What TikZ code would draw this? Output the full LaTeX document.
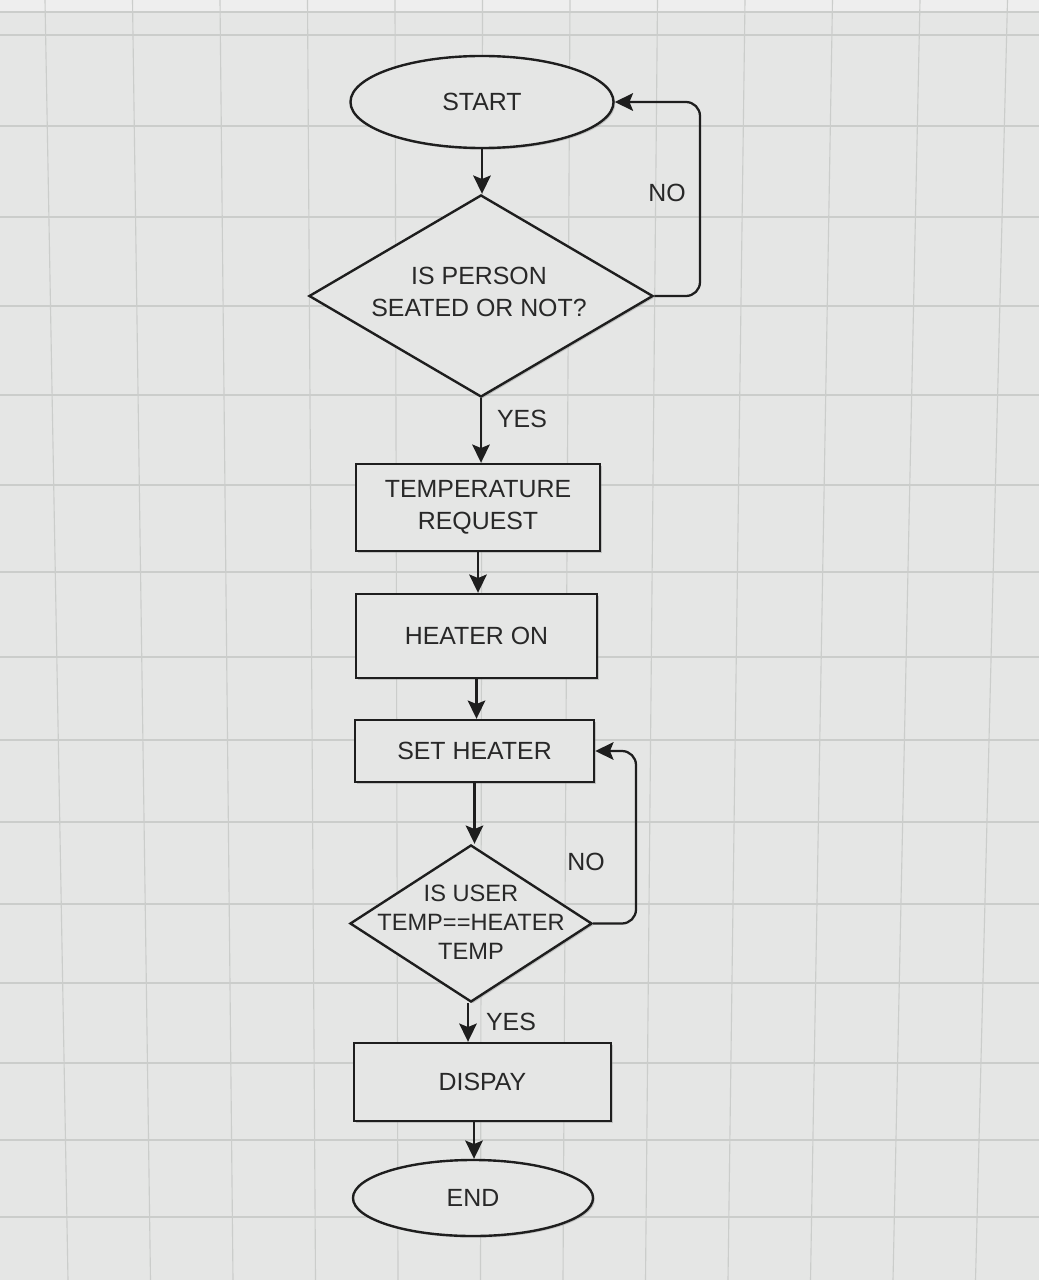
\documentclass[tikz,border=0pt]{standalone}
\usepackage{fontspec}
\setmainfont{Liberation Sans}
\usetikzlibrary{shapes.geometric,arrows.meta,shadows}
\definecolor{bg}{RGB}{229,230,229}
\definecolor{gridc}{RGB}{203,205,203}
\definecolor{ink}{RGB}{30,30,30}
\definecolor{txt}{RGB}{40,40,40}
\tikzset{
  shp/.style={draw=ink, line width=1.7pt, fill=bg, text=txt, inner sep=0pt, align=center,
    font=\fontsize{17.7}{22.5}\selectfont,
    drop shadow={opacity=0.35, shadow xshift=1.2pt, shadow yshift=-1.2pt}},
  term/.style={shp, ellipse},
  proc/.style={shp, rectangle},
  dec/.style={shp, diamond},
  lbl/.style={text=txt, inner sep=0pt, font=\fontsize{17.7}{22.5}\selectfont},
  arr/.style={draw=ink, line width=1.6pt, -{Stealth[length=13pt,width=12.5pt,inset=2.5pt]}},
  gline/.style={draw=gridc, line width=0.8pt}
}
\begin{document}
\begin{tikzpicture}[x=0.025cm, y=-0.025cm]
\useasboundingbox (0,0) rectangle (1039,1280);
\fill[bg] (0,0) rectangle (1039,1280);
\fill[white, opacity=0.35] (0,0) rectangle (1039,12);
% grid
\foreach \k in {0,...,11}{
  \draw[gline] ({45+87.5*\k},0) -- ({68+82.5*\k},1280);
}
\foreach \yy in {12,35,126,217,306,395,485,572,657,740,822,904,983,1063,1140,1217}{
  \draw[gline] (0,\yy) -- (1039,\yy);
}
% nodes
\node[term, minimum width=6.575cm, minimum height=2.3cm] (start) at (482,102) {START};
\node[dec, minimum width=8.6cm, minimum height=5.05cm] (d1) at (481,296) {};
\node[lbl, align=center] (d1t) at (479,292) {IS PERSON\\SEATED OR NOT?};
\node[proc, minimum width=6.1cm, minimum height=2.175cm] (r1) at (478,507.5) {TEMPERATURE\\REQUEST};
\node[proc, minimum width=6.025cm, minimum height=2.1cm] (r2) at (476.5,636) {HEATER ON};
\node[proc, minimum width=5.975cm, minimum height=1.55cm] (r3) at (474.5,751) {SET HEATER};
\node[dec, minimum width=6.05cm, minimum height=3.925cm] (d2) at (471,923.5) {};
\node[lbl, align=center, font=\fontsize{16.8}{20.6}\selectfont] (d2t) at (471,922) {IS USER\\TEMP==HEATER\\TEMP};
\node[proc, minimum width=6.425cm, minimum height=1.95cm] (r4) at (482.5,1082) {DISPAY};
\node[term, minimum width=6.0cm, minimum height=1.9cm] (end) at (473,1198) {END};
% helper coordinates
\coordinate (c1) at (700,0);
\coordinate (c2) at (636,0);
\coordinate (c3) at (474,0);
\coordinate (c4) at (468,0);
% connectors
\draw[arr] (start.south) -- (start.south |- d1.north);
\draw[arr] (d1.south) -- (d1.south |- r1.north);
\draw[arr] (r1.south) -- (r1.south |- r2.north);
\draw[arr] (r2.south) -- (r2.south |- r3.north);
\draw[arr] (r3.south) -- (r3.south |- d2.north);
\draw[arr] (d2.south -| c4) -- (r4.north -| c4);
\draw[arr] (r4.south -| c3) -- (end.north -| c3);
\draw[arr, rounded corners=10pt] (d1.east) -- (d1.east -| c1) -- (start.east -| c1) -- (start.east);
\draw[arr, rounded corners=10pt] (d2.east) -- (d2.east -| c2) -- (r3.east -| c2) -- (r3.east);
% labels
\node[lbl] (no1) at (667,193) {NO};
\node[lbl] (yes1) at (522,419) {YES};
\node[lbl] (no2) at (586,862) {NO};
\node[lbl] (yes2) at (511,1022) {YES};
\end{tikzpicture}
\end{document}
